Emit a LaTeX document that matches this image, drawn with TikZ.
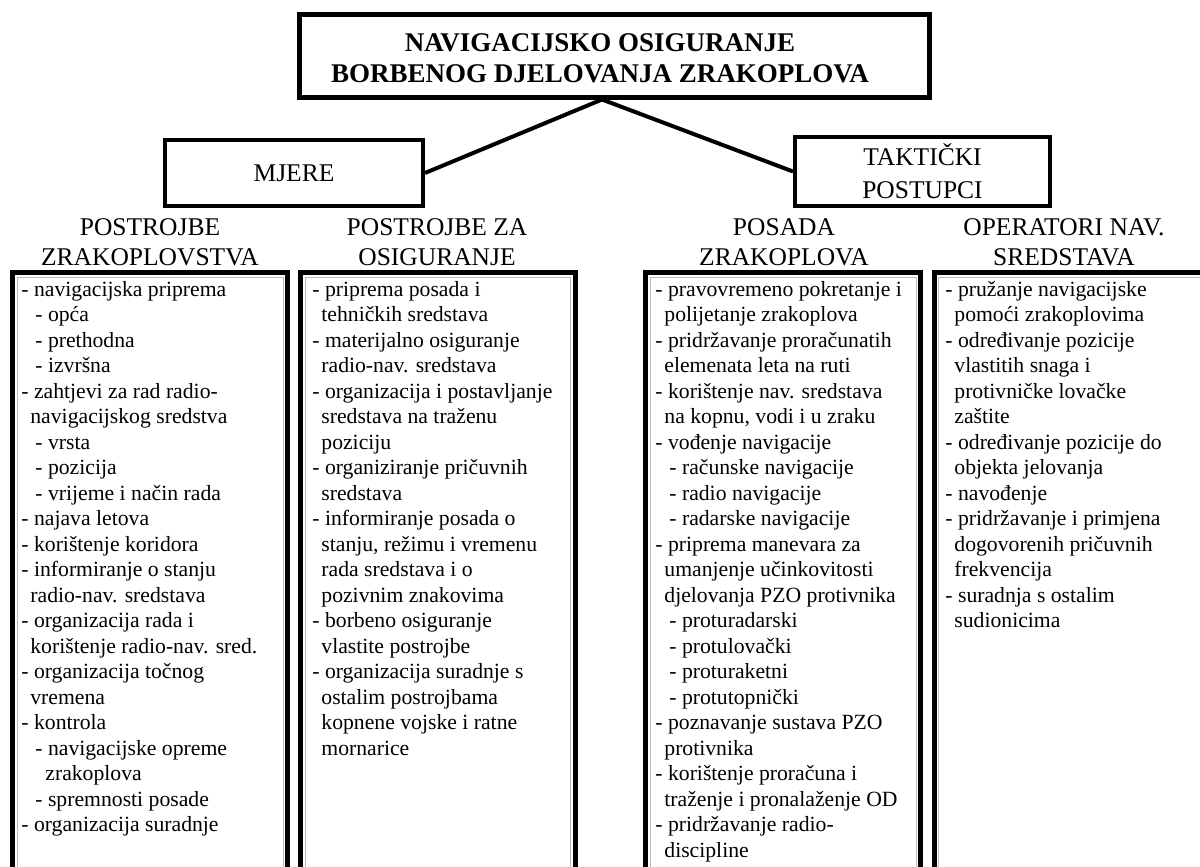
\documentclass[tikz,border=0pt]{standalone}
\usepackage{fontspec}
\setmainfont{Liberation Serif}
\usetikzlibrary{positioning}
\newcommand\uvA{\hspace*{4.5pt}}
\newcommand\uvB{\hspace*{7pt}}
\newcommand\uvC{\hspace*{12pt}}

\begin{document}
\begin{tikzpicture}[x=0.5pt,y=-0.5pt,
  okvir/.style={line width=2.5pt},
  sjena/.style={gray!55,line width=0.5pt},
  glavni/.style={draw,line width=2.5pt,minimum width=315pt,minimum height=41.5pt},
  grupa/.style={draw,line width=2pt,align=center,font=\fontsize{12.75pt}{16.5pt}\selectfont},
  zaglavlje/.style={align=center,anchor=base,inner sep=0pt,font=\fontsize{12.75pt}{15pt}\selectfont},
  popis/.style={align=left,anchor=base west,inner sep=0pt,font=\fontsize{10.85pt}{12.75pt}\selectfont},
  veza/.style={line width=2pt}]
\useasboundingbox (0,0) rectangle (1200,867);
% vrh (base = zadnji redak)
\node[glavni] (glavni) at (614,55.5) {};
\node[anchor=base,align=center,inner sep=0pt,font=\fontsize{13.5pt}{15.5pt}\selectfont\bfseries] (naslov) at (600,82)
  {NAVIGACIJSKO OSIGURANJE\\BORBENOG DJELOVANJA ZRAKOPLOVA};
\coordinate (apex) at ([xshift=-6pt]glavni.south);
% druga razina
\node[grupa,minimum width=129pt,minimum height=33pt] (mjere) at (294,173) {MJERE};
\node[grupa,minimum width=127.5pt,minimum height=34.5pt] (taktik) at (922.5,171.5) {TAKTIČKI\\POSTUPCI};
\draw[veza] (apex) -- (mjere.east);
\draw[veza] (apex) -- (taktik.west);
% zaglavlja stupaca
\node[zaglavlje] (h1) at (150,265) {POSTROJBE\\ZRAKOPLOVSTVA};
\node[zaglavlje] (h2) at (437,265) {POSTROJBE ZA\\OSIGURANJE};
\node[zaglavlje] (h3) at (784,265) {POSADA\\ZRAKOPLOVA};
\node[zaglavlje] (h4) at (1064,265) {OPERATORI NAV.\\SREDSTAVA};
% okviri stupaca
\draw[okvir] (12.5,272.5) rectangle (287.5,880);
\draw[okvir] (300.5,272.5) rectangle (575,880);
\draw[okvir] (645.5,272.5) rectangle (920.5,880);
\draw[okvir] (934,272.5) rectangle (1205,880);
%     unutarnja siva crta
\draw[sjena] (17,277) rectangle (283,880);
\draw[sjena] (305,277) rectangle (570.5,880);
\draw[sjena] (650,277) rectangle (916,880);
\draw[sjena] (938.5,277) rectangle (1205,880);
% 1. stupac (22 retka)
\node[popis] (l1) at (21,831.5) {%
- navigacijska priprema\\
\uvB- opća\\
\uvB- prethodna\\
\uvB- izvršna\\
- zahtjevi za rad radio-\\
\uvA navigacijskog sredstva\\
\uvB- vrsta\\
\uvB- pozicija\\
\uvB- vrijeme i način rada\\
- najava letova\\
- korištenje koridora\\
- informiranje o stanju\\
\uvA radio-nav. sredstava\\
- organizacija rada i\\
\uvA korištenje radio-nav. sred.\\
- organizacija točnog\\
\uvA vremena\\
- kontrola\\
\uvB- navigacijske opreme\\
\uvC zrakoplova\\
\uvB- spremnosti posade\\
- organizacija suradnje};
% 2. stupac (19 redaka)
\node[popis] (l2) at (312,755) {%
- priprema posada i\\
\uvA tehničkih sredstava\\
- materijalno osiguranje\\
\uvA radio-nav. sredstava\\
- organizacija i postavljanje\\
\uvA sredstava na traženu\\
\uvA poziciju\\
- organiziranje pričuvnih\\
\uvA sredstava\\
- informiranje posada o\\
\uvA stanju, režimu i vremenu\\
\uvA rada sredstava i o\\
\uvA pozivnim znakovima\\
- borbeno osiguranje\\
\uvA vlastite postrojbe\\
- organizacija suradnje s\\
\uvA ostalim postrojbama\\
\uvA kopnene vojske i ratne\\
\uvA mornarice};
% 3. stupac (23 retka)
\node[popis] (l3) at (655,857) {%
- pravovremeno pokretanje i\\
\uvA polijetanje zrakoplova\\
- pridržavanje proračunatih\\
\uvA elemenata leta na ruti\\
- korištenje nav. sredstava\\
\uvA na kopnu, vodi i u zraku\\
- vođenje navigacije\\
\uvB- računske navigacije\\
\uvB- radio navigacije\\
\uvB- radarske navigacije\\
- priprema manevara za\\
\uvA umanjenje učinkovitosti\\
\uvA djelovanja PZO protivnika\\
\uvB- proturadarski\\
\uvB- protulovački\\
\uvB- proturaketni\\
\uvB- protutopnički\\
- poznavanje sustava PZO\\
\uvA protivnika\\
- korištenje proračuna i\\
\uvA traženje i pronalaženje OD\\
- pridržavanje radio-\\
\uvA discipline};
% 4. stupac (14 redaka)
\node[popis] (l4) at (945,627.5) {%
- pružanje navigacijske\\
\uvA pomoći zrakoplovima\\
- određivanje pozicije\\
\uvA vlastitih snaga i\\
\uvA protivničke lovačke\\
\uvA zaštite\\
- određivanje pozicije do\\
\uvA objekta jelovanja\\
- navođenje\\
- pridržavanje i primjena\\
\uvA dogovorenih pričuvnih\\
\uvA frekvencija\\
- suradnja s ostalim\\
\uvA sudionicima};
\end{tikzpicture}
\end{document}
